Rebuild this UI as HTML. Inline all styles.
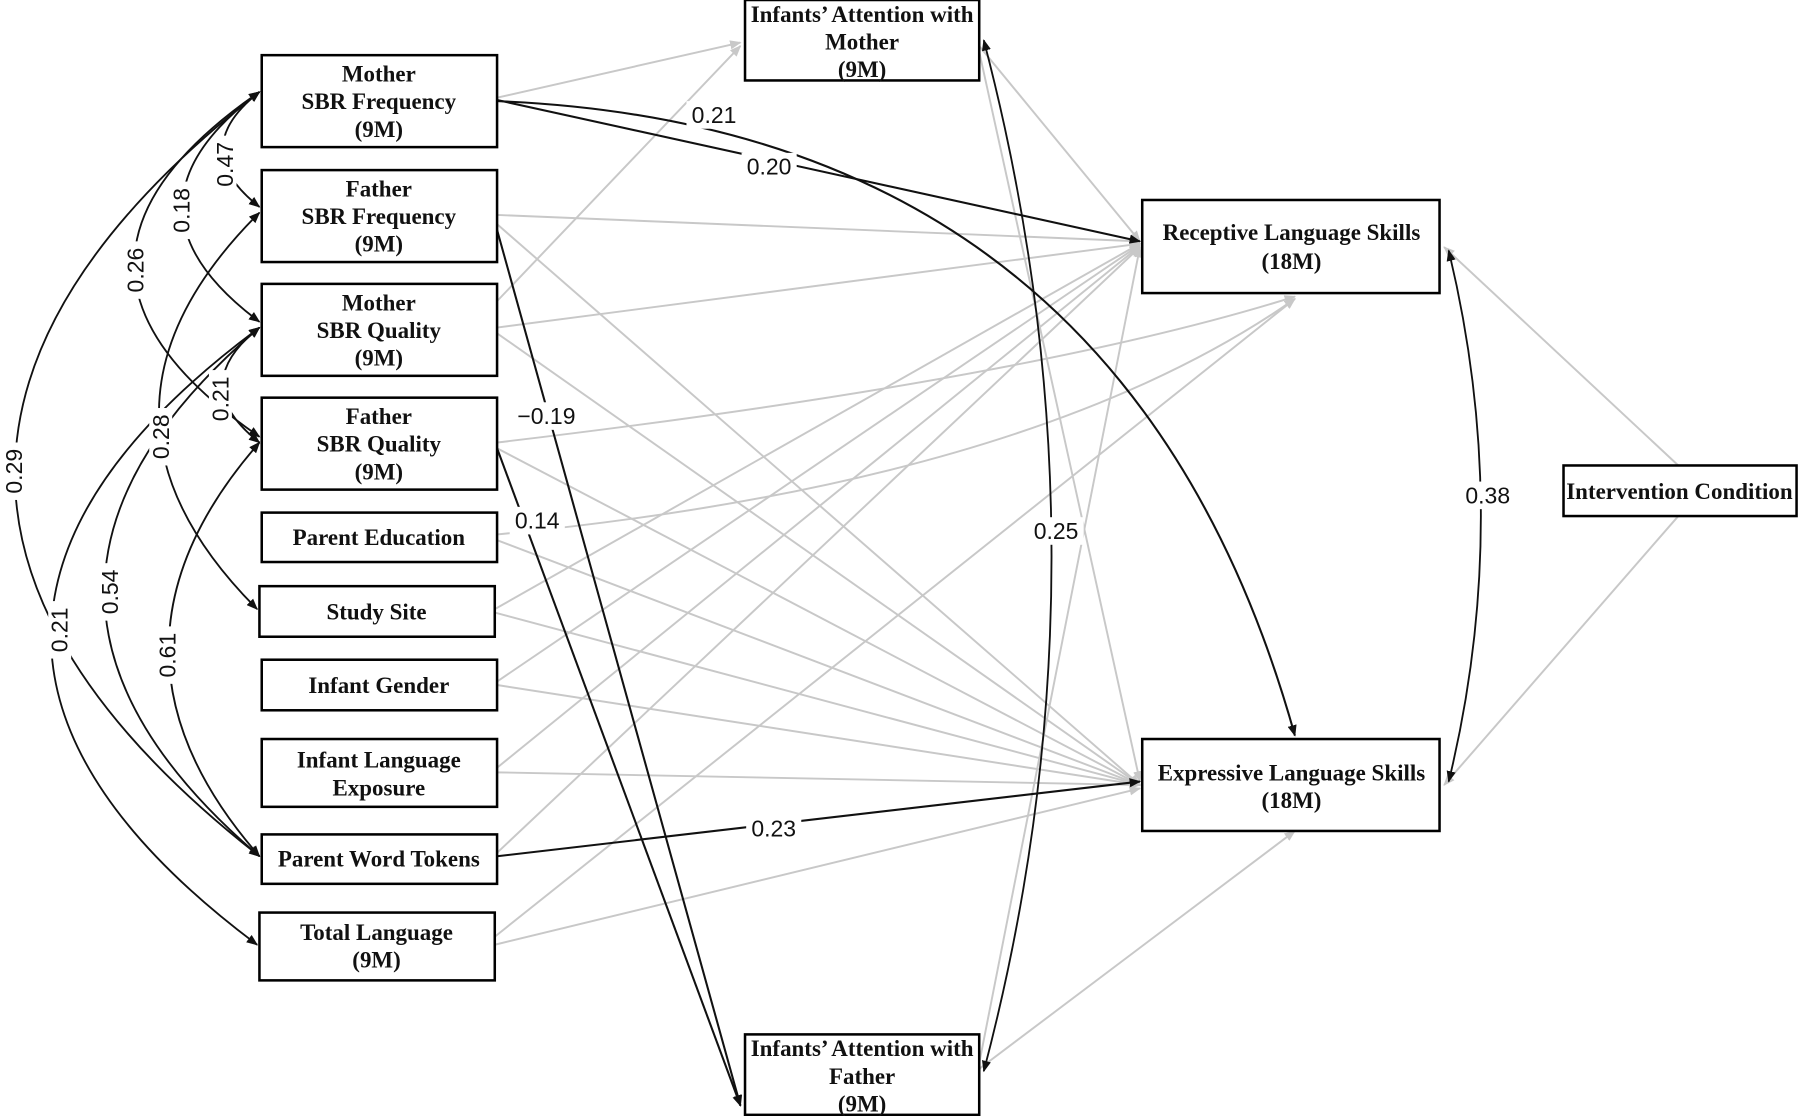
<!DOCTYPE html>
<html><head><meta charset="utf-8"><style>
html,body{margin:0;padding:0;background:#fff;}
svg{display:block;}
.bx{fill:#fff;stroke:#000;stroke-width:2.2;}
.t{font-family:"Liberation Serif",serif;font-weight:bold;font-size:20px;text-anchor:middle;fill:#111;}
.n{font-family:"Liberation Sans","DejaVu Sans",sans-serif;font-size:20px;text-anchor:middle;fill:#111;}
.g{stroke:#c8c8c8;stroke-width:1.7;fill:none;marker-end:url(#ag);}
.k{stroke:#111;stroke-width:1.8;fill:none;marker-end:url(#ak);}
.c{stroke:#111;stroke-width:1.6;fill:none;marker-end:url(#ak);marker-start:url(#aks);}
</style></head><body>
<svg width="1800" height="1116" viewBox="0 0 1568 971" preserveAspectRatio="none" xmlns="http://www.w3.org/2000/svg">
<defs>
<marker id="ag" markerWidth="10" markerHeight="8" refX="9" refY="4" orient="auto" markerUnits="userSpaceOnUse"><path d="M0,0 L10,4 L0,8 z" fill="#c8c8c8"/></marker>
<marker id="ak" markerWidth="10" markerHeight="8" refX="9" refY="4" orient="auto" markerUnits="userSpaceOnUse"><path d="M0,0 L10,4 L0,8 z" fill="#111"/></marker>
<marker id="aks" markerWidth="10" markerHeight="8" refX="1" refY="4" orient="auto" markerUnits="userSpaceOnUse"><path d="M10,0 L0,4 L10,8 z" fill="#111"/></marker>
</defs>

<g>
<line class="g" x1="433" y1="85" x2="645" y2="37"/>
<line class="g" x1="433" y1="187" x2="993" y2="210"/>
<line class="g" x1="433" y1="195" x2="993" y2="683"/>
<line class="g" x1="433" y1="262" x2="645" y2="40"/>
<line class="g" x1="433" y1="285" x2="993" y2="212"/>
<line class="g" x1="433" y1="290" x2="993" y2="683"/>
<path class="g" d="M433,385 Q900,330 1128,258"/>
<line class="g" x1="433" y1="390" x2="993" y2="683"/>
<path class="g" d="M433,465 Q900,420 1128,260"/>
<line class="g" x1="433" y1="470" x2="993" y2="683"/>
<line class="g" x1="431" y1="530" x2="993" y2="212"/>
<line class="g" x1="431" y1="533" x2="993" y2="683"/>
<line class="g" x1="433" y1="593" x2="993" y2="213"/>
<line class="g" x1="433" y1="596" x2="993" y2="683"/>
<line class="g" x1="433" y1="668" x2="993" y2="214"/>
<line class="g" x1="433" y1="672" x2="993" y2="683"/>
<line class="g" x1="433" y1="742" x2="993" y2="215"/>
<line class="g" x1="431" y1="815" x2="1128" y2="260"/>
<line class="g" x1="431" y1="822" x2="993" y2="686"/>
<line class="g" x1="853" y1="40" x2="993" y2="210"/>
<line class="g" x1="853" y1="45" x2="993" y2="680"/>
<line class="g" x1="853" y1="925" x2="993" y2="215"/>
<line class="g" x1="853" y1="930" x2="1128" y2="723"/>
<line class="g" x1="1462" y1="405" x2="1258" y2="215"/>
<line class="g" x1="1462" y1="449" x2="1258" y2="683"/>
</g>

<line class="k" x1="433" y1="87" x2="993" y2="210"/>
<path class="k" d="M433,88 Q980,110 1128,640"/>
<line class="k" x1="433" y1="200" x2="645" y2="962"/>
<line class="k" x1="433" y1="390" x2="645" y2="962"/>
<line class="k" x1="433" y1="745" x2="993" y2="680"/>
<path class="c" d="M857,35 Q975,485 857,932"/>
<path class="c" d="M1262,218 Q1318,450 1262,680"/>

<path class="c" d="M226,80 Q162,130 226,180"/>
<path class="c" d="M226,80 Q92,180 226,280"/>
<path class="c" d="M226,80 Q8,230 226,380"/>
<path class="c" d="M226,80 Q-200,412 226,745"/>
<path class="c" d="M226,285 Q162,335 226,385"/>
<path class="c" d="M226,185 Q52,358 224,530"/>
<path class="c" d="M226,285 Q-44,515 226,745"/>
<path class="c" d="M226,285 Q-136,553 224,822"/>
<path class="c" d="M226,385 Q68,565 226,745"/>

<g class="n">
<rect x="186" y="118" width="20" height="50" fill="#fff"/><text transform="translate(196,143) rotate(-90)" dy="7">0.47</text>
<rect x="148" y="158" width="20" height="50" fill="#fff"/><text transform="translate(158,183) rotate(-90)" dy="7">0.18</text>
<rect x="108" y="210" width="20" height="50" fill="#fff"/><text transform="translate(118,235) rotate(-90)" dy="7">0.26</text>
<rect x="182" y="322" width="20" height="50" fill="#fff"/><text transform="translate(192,347) rotate(-90)" dy="7">0.21</text>
<rect x="130" y="355" width="20" height="50" fill="#fff"/><text transform="translate(140,380) rotate(-90)" dy="7">0.28</text>
<rect x="2" y="385" width="20" height="50" fill="#fff"/><text transform="translate(12,410) rotate(-90)" dy="7">0.29</text>
<rect x="86" y="490" width="20" height="50" fill="#fff"/><text transform="translate(96,515) rotate(-90)" dy="7">0.54</text>
<rect x="42" y="523" width="20" height="50" fill="#fff"/><text transform="translate(52,548) rotate(-90)" dy="7">0.21</text>
<rect x="136" y="545" width="20" height="50" fill="#fff"/><text transform="translate(146,570) rotate(-90)" dy="7">0.61</text>
</g>

<g class="n">
<rect x="598" y="88" width="48" height="24" fill="#fff"/><text x="622" y="107">0.21</text>
<rect x="646" y="133" width="48" height="24" fill="#fff"/><text x="670" y="152">0.20</text>
<rect x="443" y="350" width="66" height="24" fill="#fff"/><text x="476" y="369">−0.19</text>
<rect x="444" y="441" width="48" height="24" fill="#fff"/><text x="468" y="460">0.14</text>
<rect x="650" y="709" width="48" height="24" fill="#fff"/><text x="674" y="728">0.23</text>
<rect x="896" y="450" width="48" height="24" fill="#fff"/><text x="920" y="469">0.25</text>
<rect x="1272" y="419" width="48" height="24" fill="#fff"/><text x="1296" y="438">0.38</text>
</g>

<rect class="bx" x="228" y="48" width="205" height="80"/>
<text class="t" x="330" y="71">Mother</text><text class="t" x="330" y="95">SBR Frequency</text><text class="t" x="330" y="119">(9M)</text>
<rect class="bx" x="228" y="148" width="205" height="80"/>
<text class="t" x="330" y="171">Father</text><text class="t" x="330" y="195">SBR Frequency</text><text class="t" x="330" y="219">(9M)</text>
<rect class="bx" x="228" y="247" width="205" height="80"/>
<text class="t" x="330" y="270">Mother</text><text class="t" x="330" y="294">SBR Quality</text><text class="t" x="330" y="318">(9M)</text>
<rect class="bx" x="228" y="346" width="205" height="80"/>
<text class="t" x="330" y="369">Father</text><text class="t" x="330" y="393">SBR Quality</text><text class="t" x="330" y="417">(9M)</text>
<rect class="bx" x="228" y="446" width="205" height="43"/>
<text class="t" x="330" y="474">Parent Education</text>
<rect class="bx" x="226" y="510" width="205" height="44"/>
<text class="t" x="328" y="539">Study Site</text>
<rect class="bx" x="228" y="574" width="205" height="44"/>
<text class="t" x="330" y="603">Infant Gender</text>
<rect class="bx" x="228" y="643" width="205" height="59"/>
<text class="t" x="330" y="668">Infant Language</text><text class="t" x="330" y="692">Exposure</text>
<rect class="bx" x="228" y="726" width="205" height="43"/>
<text class="t" x="330" y="754">Parent Word Tokens</text>
<rect class="bx" x="226" y="794" width="205" height="59"/>
<text class="t" x="328" y="818">Total Language</text><text class="t" x="328" y="842">(9M)</text>
<rect class="bx" x="649" y="0" width="204" height="70"/>
<text class="t" x="751" y="19">Infants’ Attention with</text><text class="t" x="751" y="43">Mother</text><text class="t" x="751" y="67">(9M)</text>
<rect class="bx" x="649" y="900" width="204" height="70"/>
<text class="t" x="751" y="919">Infants’ Attention with</text><text class="t" x="751" y="943">Father</text><text class="t" x="751" y="967">(9M)</text>
<rect class="bx" x="995" y="174" width="259" height="81"/>
<text class="t" x="1125" y="209">Receptive Language Skills</text><text class="t" x="1125" y="234">(18M)</text>
<rect class="bx" x="995" y="643" width="259" height="80"/>
<text class="t" x="1125" y="679">Expressive Language Skills</text><text class="t" x="1125" y="703">(18M)</text>
<rect class="bx" x="1362" y="405" width="203" height="44"/>
<text class="t" x="1463" y="434">Intervention Condition</text>
</svg>
</body></html>
